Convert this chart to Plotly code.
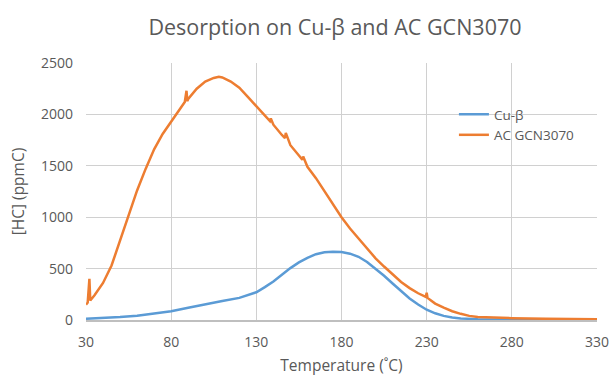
import plotly.graph_objects as go

# Dados
temp_ac = [30, 31, 32, 32.5, 35, 40, 45, 50, 55, 60, 65, 70, 75, 80, 85, 88, 89, 89.5,
           90, 95, 100, 105, 108, 110, 115, 120, 125, 130, 135, 138, 138.5, 140, 145,
           146.8, 147.3, 150, 155, 157, 157.5, 160, 165, 170, 175, 180, 185, 190, 195,
           200, 205, 210, 215, 220, 225, 229.5, 230, 230.5, 235, 240, 245, 250, 255,
           260, 270, 280, 300, 330]
hc_ac = [150, 170, 400, 190, 240, 360, 530, 780, 1010, 1260, 1470, 1660, 1810, 1930,
         2050, 2120, 2230, 2130, 2150, 2250, 2320, 2355, 2365, 2360, 2320, 2260, 2170,
         2080, 1990, 1935, 1960, 1900, 1800, 1770, 1820, 1700, 1600, 1560, 1590, 1490,
         1380, 1250, 1130, 1000, 890, 790, 690, 600, 520, 440, 370, 310, 260, 225, 265,
         215, 160, 120, 85, 60, 40, 30, 22, 18, 12, 8]

temp_cu = [30, 40, 50, 60, 70, 80, 90, 100, 110, 120, 125, 130, 135, 140, 145, 150,
           155, 160, 165, 170, 175, 180, 185, 190, 195, 200, 205, 210, 215, 220, 225,
           230, 235, 240, 245, 250, 260, 280, 330]
hc_cu = [12, 18, 28, 42, 62, 85, 120, 155, 185, 215, 240, 270, 320, 375, 440, 505,
         560, 605, 640, 658, 665, 662, 645, 615, 565, 500, 430, 355, 280, 210, 150,
         100, 65, 40, 25, 15, 8, 4, 2]

x_ticks = [30, 80, 130, 180, 230, 280, 330]
y_ticks = [0, 500, 1000, 1500, 2000, 2500]

fig = go.Figure()
fig.add_trace(go.Scatter(x=temp_cu, y=hc_cu, mode='lines', name='Cu-β',
                         line=dict(color='#5B9BD5', width=2.5)))
fig.add_trace(go.Scatter(x=temp_ac, y=hc_ac, mode='lines', name='AC GCN3070',
                         line=dict(color='#ED7D31', width=2.5)))

fig.update_layout(
    width=609, height=376,
    margin=dict(l=86, r=12, t=63, b=56, autoexpand=False),
    paper_bgcolor='white', plot_bgcolor='white',
    font=dict(family='Open Sans', size=13, color='#595959'),
    title=dict(text='Desorption on Cu-β and AC GCN3070', x=0.55, xanchor='center',
               y=0.928, yanchor='middle', font=dict(size=21.5, color='#595959')),
    legend=dict(x=0.72, y=0.86, xanchor='left', yanchor='top',
                bgcolor='rgba(0,0,0,0)', font=dict(size=13.5, color='#595959'),
                tracegroupgap=0, itemwidth=30),
    showlegend=True,
)
fig.update_xaxes(range=[30, 330], tickvals=x_ticks, showgrid=True, gridcolor='#D0D0D0',
                 gridwidth=1.3, zeroline=False, showline=True, linecolor='#BFBFBF',
                 linewidth=1.5, ticks='', ticklabelstandoff=8, automargin=False,
                 ticklabeloverflow='allow',
                 title=dict(text='Temperature (˚C)', standoff=12, font=dict(size=15.5)),
                 tickfont=dict(size=14))
fig.update_yaxes(range=[0, 2500], tickvals=y_ticks, showgrid=True, gridcolor='#D0D0D0',
                 gridwidth=1.3, zeroline=False, showline=False, ticks='',
                 ticklabelstandoff=12, automargin=False,
                 title=dict(text='[HC] (ppmC)', standoff=12, font=dict(size=15.5)),
                 tickfont=dict(size=14))

# remove a margem padrão do body para a figura começar no canto
fig.write_html("out.html", config={'displayModeBar': False},
               post_script="document.body.style.margin='0';")
